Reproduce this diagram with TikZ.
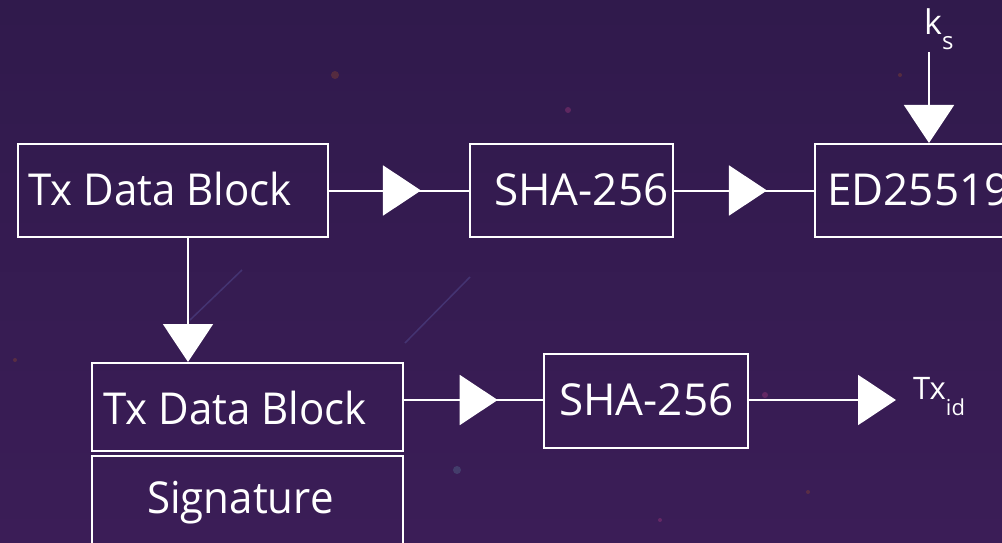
\documentclass[tikz,border=0pt]{standalone}
\usepackage{fontspec}
\setmainfont{Open Sans}
\newfontfamily\narrowfont[FakeStretch=0.955]{Open Sans}
\usetikzlibrary{arrows.meta,decorations.markings}
\definecolor{bgtop}{HTML}{301A4C}
\definecolor{bgbot}{HTML}{3B1D57}
\definecolor{streakc}{HTML}{4E4488}
\begin{document}
\begin{tikzpicture}[x=1pt,y=-1pt,
  box/.style={draw=white,line width=2pt,rectangle,inner sep=0pt,anchor=north west},
  lbl/.style={text=white,font=\fontsize{44}{50}\selectfont,inner sep=0pt,anchor=base west},
  nlbl/.style={text=white,font=\narrowfont\fontsize{44}{50}\selectfont,inner sep=0pt,anchor=base west},
  small/.style={text=white,inner sep=0pt,anchor=base west},
  conn/.style={draw=white,color=white,line width=2pt},
  endtri/.style={-{Triangle[length=38pt,width=50pt]}},
  midtri/.style={postaction={decorate},decoration={markings,mark=at position #1 with {\arrow{Triangle[length=38pt,width=50pt]}}}},
  streak/.style={draw=streakc,line width=1.5pt,opacity=0.6},
  glow/.style={fill=#1,opacity=0.35}
]
\useasboundingbox (0,0) rectangle (1002,543);
\clip (0,0) rectangle (1002,543);
\fill[top color=bgtop,bottom color=bgbot] (0,0) rectangle (1002,543);
% faint background details
\draw[streak] (190,320) -- (242,270);
\draw[streak] (405,343) -- (470,277);
\fill[glow=orange!50!bgtop] (335,75) circle (4);
\fill[glow=magenta!60!bgtop] (568,110) circle (3);
\fill[glow=cyan!40!bgtop] (457,470) circle (4);
\fill[glow=magenta!60!bgtop] (765,395) circle (3);
\fill[glow=orange!50!bgtop] (900,75) circle (2);
\fill[glow=orange!50!bgtop] (808,492) circle (2);
\fill[glow=magenta!60!bgtop] (660,520) circle (2);
\fill[glow=orange!50!bgtop] (15,360) circle (2);

% boxes
\node[box,minimum width=310,minimum height=93] (A) at (17,143) {};
\node[box,minimum width=203,minimum height=93] (B) at (469,143) {};
\node[box,minimum width=220,minimum height=93] (C) at (814,143) {};
\node[box,minimum width=311,minimum height=88] (D1) at (91,362) {};
\node[box,minimum width=311,minimum height=120] (D2) at (91,455) {};
\node[box,minimum width=204,minimum height=94] (E) at (543,353) {};

% texts
\node[nlbl] (tA) at (28,205) {Tx Data Block};
\node[lbl] (tB) at (494,205) {SHA-256};
\node[lbl] (tC) at (827,205) {ED25519};
\node[nlbl] (tD1) at (103,424) {Tx Data Block};
\node[nlbl] (tD2) at (147,513) {Signature};
\node[lbl] (tE) at (559,415) {SHA-256};
\node[small] (ks) at (924,35) {\fontsize{34}{40}\selectfont k\raisebox{-15pt}{\fontsize{24}{28}\selectfont s}};
\node[small] (txid) at (913,399) {\fontsize{31}{36}\selectfont Tx\raisebox{-16pt}{\fontsize{22}{26}\selectfont id}};
\coordinate (ksend) at (929,52);
\coordinate (txend) at (896,400);
\coordinate (downx) at (188,0);
\coordinate (lowy) at (0,400);

% connectors
\draw[conn,midtri=0.657] (A.east) -- (B.west);
\draw[conn,midtri=0.664] (B.east) -- (C.west);
\draw[conn,endtri] (ksend) -- (ksend |- C.north);
\draw[conn,endtri] (A.south -| downx) -- (D1.north -| downx);
\draw[conn,midtri=0.674] (D1.east |- lowy) -- (E.west |- lowy);
\draw[conn,endtri] (E.east |- txend) -- (txend);
\end{tikzpicture}
\end{document}
